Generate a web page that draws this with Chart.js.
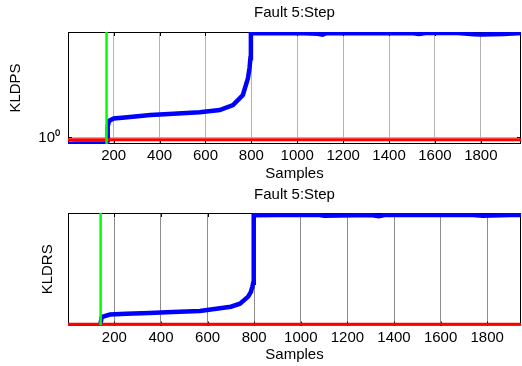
<!DOCTYPE html>
<html>
<head>
<meta charset="utf-8">
<script src="https://cdn.jsdelivr.net/npm/chart.js@4.4.1/dist/chart.umd.min.js"></script>
<style>
  html, body { margin: 0; padding: 0; background: #fff; }
  canvas { display: block; }
</style>
</head>
<body>
<canvas id="kldpsChart" width="522" height="183"></canvas>
<canvas id="kldrsChart" width="522" height="183"></canvas>
<script>
// Data
const xTicks = [200, 400, 600, 800, 1000, 1200, 1400, 1600, 1800];

// Top plot: KLDPS (log scale)
const kldpsSamples = [1, 40, 80, 120, 168, 171, 173, 175, 180, 200, 260, 360, 460, 575, 662, 720, 763, 785, 792, 796, 798, 900, 1000, 1090, 1110, 1130, 1300, 1500, 1530, 1560, 1700, 1770, 1800, 1900, 1960, 1975];
const kldpsValues = [0.933, 0.934, 0.936, 0.936, 0.937, 0.97, 1.03, 1.13, 1.2, 1.232, 1.25, 1.281, 1.297, 1.319, 1.353, 1.43, 1.597, 1.92, 2.15, 2.4, 3.165, 3.16, 3.165, 3.14, 3.11, 3.165, 3.16, 3.165, 3.13, 3.165, 3.165, 3.12, 3.11, 3.13, 3.16, 3.165];
const kldpsLimit = 0.974;
const kldpsFault = 169;
const kldpsRange = [0.93, 3.2];
const kldpsXRange = [1, 1975];
const kldpsYTicks = [1];

// Bottom plot: KLDRS
const kldrsSamples = [1, 60, 120, 139, 141, 145, 152, 181, 250, 350, 450, 567, 653, 700, 739, 774, 786, 792, 796, 798, 900, 1080, 1100, 1300, 1335, 1360, 1600, 1740, 1780, 1900, 1945];
const kldrsValues = [0.0, 0.0, 0.0, 0.0, 0.02, 0.07, 0.08, 0.098, 0.105, 0.112, 0.12, 0.13, 0.154, 0.168, 0.195, 0.257, 0.3, 0.345, 0.38, 0.98, 0.982, 0.982, 0.976, 0.982, 0.972, 0.982, 0.982, 0.982, 0.976, 0.982, 0.982];
const kldrsLimit = 0.012;
const kldrsFault = 141;
const kldrsRange = [0, 1];
const kldrsXRange = [1, 1945];

Chart.defaults.font.family = "'Liberation Sans', Arial, sans-serif";
Chart.defaults.font.size = 15;
Chart.defaults.color = "#000";

// Box around plot area, with small inside ticks like MATLAB
const boxPlugin = {
  id: "box",
  beforeDatasetsDraw(chart) {
    const { ctx, chartArea: a, scales } = chart;
    ctx.save();
    ctx.strokeStyle = "#000";
    ctx.lineWidth = 1;
    ctx.strokeRect(a.left + 0.5, a.top + 0.5, a.right - a.left - 1, a.bottom - a.top - 1);
    ctx.beginPath();
    scales.x.ticks.forEach((t) => {
      const px = Math.round(scales.x.getPixelForValue(t.value)) + 0.5;
      ctx.moveTo(px, a.bottom); ctx.lineTo(px, a.bottom - 4);
      ctx.moveTo(px, a.top); ctx.lineTo(px, a.top + 4);
    });
    if (scales.y.options.ticks.display) {
      scales.y.ticks.forEach((t) => {
        const py = Math.round(scales.y.getPixelForValue(t.value)) + 0.5;
        ctx.moveTo(a.left, py); ctx.lineTo(a.left + 4, py);
        ctx.moveTo(a.right, py); ctx.lineTo(a.right - 4, py);
      });
    }
    ctx.stroke();
    ctx.restore();
  },
};

function toPoints(xs, ys) {
  return xs.map((x, i) => ({ x: x, y: ys[i] }));
}

function makeChart(id, cfg) {
  const ctx = document.getElementById(id).getContext("2d");
  return new Chart(ctx, {
    type: "line",
    data: {
      datasets: [
        {
          data: [{ x: cfg.fault, y: cfg.yRange[0] }, { x: cfg.fault, y: cfg.yRange[1] }],
          borderColor: "#00ff00",
          borderWidth: 2.5,
          pointRadius: 0,
          order: 1,
        },
        {
          data: [{ x: cfg.xRange[0], y: cfg.limit }, { x: cfg.xRange[1], y: cfg.limit }],
          borderColor: "#ff0000",
          borderWidth: 3,
          pointRadius: 0,
          order: 2,
        },
        {
          data: toPoints(cfg.samples, cfg.values),
          borderColor: "#0000ff",
          borderWidth: 4.5,
          pointRadius: 0,
          tension: 0,
          order: 3,
        },
      ],
    },
    options: {
      responsive: false,
      animation: false,
      layout: { padding: { left: 0, right: 1, top: 0, bottom: 0 } },
      plugins: { legend: { display: false }, tooltip: { enabled: false } },
      scales: {
        x: {
          type: "linear",
          min: cfg.xRange[0],
          max: cfg.xRange[1],
          afterBuildTicks: (s) => { s.ticks = xTicks.map((v) => ({ value: v })); },
          afterFit: (s) => { s.height = cfg.bottomHeight; },
          grid: { color: cfg.gridColor, drawTicks: false },
          border: { display: false },
          ticks: { padding: 3, autoSkip: false, maxRotation: 0, callback: (v) => String(v) },
          title: { display: true, text: "Samples", padding: { top: 0, bottom: cfg.samplesPad } },
        },
        xTop: {
          type: "linear",
          position: "top",
          afterFit: (s) => { s.height = cfg.topHeight; },
          grid: { display: false },
          border: { display: false },
          ticks: { display: false },
          title: { display: true, text: "Fault 5:Step", padding: { top: cfg.titlePad, bottom: 0 } },
        },
        y: {
          type: cfg.yType,
          min: cfg.yRange[0],
          max: cfg.yRange[1],
          afterBuildTicks: (s) => { s.ticks = cfg.yTicks.map((v) => ({ value: v })); },
          afterFit: (s) => { s.width = 68; },
          grid: { display: cfg.yTicks.length > 0, color: cfg.gridColor, drawTicks: false },
          border: { display: false },
          ticks: { display: cfg.yTicks.length > 0, padding: 8, callback: (v) => (v === 1 ? "10\u2070" : "") },
          title: { display: true, text: cfg.yLabel, padding: { top: cfg.yLabelPad, bottom: 0 } },
        },
      },
    },
    plugins: [boxPlugin],
  });
}

document.addEventListener("DOMContentLoaded", () => {
  makeChart("kldpsChart", {
    samples: kldpsSamples, values: kldpsValues, limit: kldpsLimit, fault: kldpsFault,
    xRange: kldpsXRange, yRange: kldpsRange, yType: "logarithmic", yTicks: kldpsYTicks,
    yLabel: "KLDPS", yLabelPad: 7, gridColor: "#b4b4b4",
    topHeight: 32, bottomHeight: 39, titlePad: 3.5, samplesPad: 0.5,
  });
  makeChart("kldrsChart", {
    samples: kldrsSamples, values: kldrsValues, limit: kldrsLimit, fault: kldrsFault,
    xRange: kldrsXRange, yRange: kldrsRange, yType: "linear", yTicks: [],
    yLabel: "KLDRS", yLabelPad: 38.5, gridColor: "#8c8c8c",
    topHeight: 30, bottomHeight: 40.4, titlePad: 2.8, samplesPad: 2,
  });
});
</script>
</body>
</html>
